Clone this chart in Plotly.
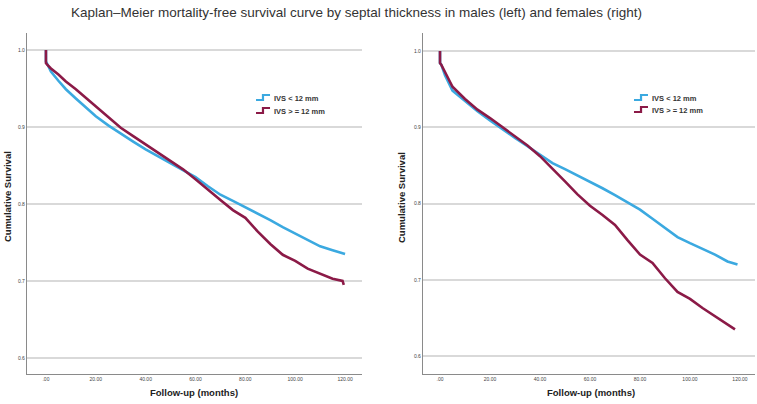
import plotly.graph_objects as go

# ---------------- data ----------------
months_m_blue = [0, 0, 0.5, 2, 5, 8, 12, 16, 20, 25, 30, 35, 40, 45, 50, 55, 60, 65, 70, 75, 80, 85, 90, 95, 100, 105, 110, 115, 120]
surv_m_blue = [1.0, 0.985, 0.982, 0.972, 0.96, 0.949, 0.937, 0.926, 0.914, 0.902, 0.891, 0.881, 0.871, 0.862, 0.853, 0.845, 0.835,
               0.823, 0.812, 0.804, 0.796, 0.788, 0.779, 0.770, 0.762, 0.754, 0.745, 0.740, 0.735]
months_m_red = [0, 0, 0.5, 2, 5, 8, 12, 16, 20, 25, 30, 35, 40, 45, 50, 55, 60, 65, 70, 75, 80, 85, 90, 95, 100, 105, 110, 115, 119, 119.5]
surv_m_red = [1.0, 0.983, 0.981, 0.976, 0.968, 0.959, 0.949, 0.938, 0.926, 0.913, 0.899, 0.888, 0.877, 0.866, 0.856, 0.845, 0.832,
              0.818, 0.805, 0.792, 0.782, 0.764, 0.748, 0.734, 0.726, 0.716, 0.709, 0.703, 0.700, 0.695]

months_f_blue = [0, 0, 0.5, 2, 5, 10, 15, 20, 25, 30, 35, 40, 45, 50, 55, 60, 65, 70, 75, 80, 85, 90, 95, 100, 105, 110, 115, 119]
surv_f_blue = [1.0, 0.984, 0.982, 0.968, 0.948, 0.934, 0.921, 0.909, 0.897, 0.886, 0.875, 0.864, 0.853, 0.845, 0.837, 0.829, 0.82,
               0.811, 0.802, 0.792, 0.78, 0.768, 0.756, 0.748, 0.741, 0.733, 0.724, 0.72]
months_f_red = [0, 0, 0.5, 2, 5, 10, 15, 20, 25, 30, 35, 40, 45, 50, 55, 60, 65, 70, 75, 80, 85, 90, 95, 100, 105, 110, 115, 118]
surv_f_red = [1.0, 0.984, 0.982, 0.972, 0.953, 0.937, 0.923, 0.912, 0.9, 0.888, 0.876, 0.862, 0.846, 0.829, 0.812, 0.797, 0.785,
              0.772, 0.752, 0.733, 0.722, 0.702, 0.684, 0.675, 0.663, 0.652, 0.641, 0.635]

series_names = ["IVS < 12 mm", "IVS > = 12 mm"]
x_ticks = [0, 20, 40, 60, 80, 100, 120]
x_tick_labels = [".00", "20.00", "40.00", "60.00", "80.00", "100.00", "120.00"]
y_ticks = [0.6, 0.7, 0.8, 0.9, 1.0]
y_tick_labels = ["0.6", "0.7", "0.8", "0.9", "1.0"]

title_text = "Kaplan\u2013Meier mortality-free survival curve by septal thickness in males (left) and females (right)"
y_title = "Cumulative Survival"
x_title = "Follow-up (months)"

BLUE = "#3BA9E0"
RED = "#8B1A47"

W, H = 757, 404

fig = go.Figure()

def add(x, y, color, name, xa, ya):
    fig.add_trace(go.Scatter(x=x, y=y, mode="lines", line=dict(color=color, width=2.6, shape="linear"),
                             name=name, xaxis=xa, yaxis=ya, showlegend=False))

add(months_m_blue, surv_m_blue, BLUE, series_names[0], "x", "y")
add(months_m_red, surv_m_red, RED, series_names[1], "x", "y")
add(months_f_blue, surv_f_blue, BLUE, series_names[0], "x2", "y2")
add(months_f_red, surv_f_red, RED, series_names[1], "x2", "y2")

def px_x(p):
    return p / W

def px_y(p):
    return 1 - p / H

axis_common = dict(showline=True, linecolor="#8a8a8a", linewidth=1.2, ticks="", zeroline=False,
                   tickfont=dict(size=5, color="#444", family="Liberation Sans"))

fig.update_layout(
    width=W, height=H, margin=dict(l=0, r=0, t=0, b=0),
    paper_bgcolor="white", plot_bgcolor="white",
    showlegend=False,
    xaxis=dict(domain=[px_x(27), px_x(362)], range=[-7.6, 126.8], tickvals=x_ticks, ticktext=x_tick_labels,
               showgrid=False, anchor="y", **axis_common),
    yaxis=dict(domain=[px_y(374), px_y(33)], range=[0.5792, 1.022], tickvals=y_ticks, ticktext=y_tick_labels,
               showgrid=True, gridcolor="#d9d9d9", gridwidth=1.5, anchor="x", **axis_common),
    xaxis2=dict(domain=[px_x(423), px_x(755)], range=[-6.8, 126.0], tickvals=x_ticks, ticktext=x_tick_labels,
                showgrid=False, anchor="y2", **axis_common),
    yaxis2=dict(domain=[px_y(374), px_y(33)], range=[0.5765, 1.0235], tickvals=y_ticks, ticktext=y_tick_labels,
                showgrid=True, gridcolor="#d9d9d9", gridwidth=1.5, anchor="x2", **axis_common),
)

# custom step-shaped legend icons + labels
shapes = []
ann = []
legend_spots = [(256, 98, 111), (634, 98, 110)]
for (lx, y1, y2) in legend_spots:
    for (yy, col, name) in [(y1, BLUE, series_names[0]), (y2, RED, series_names[1])]:
        path = "M {:.4f},{:.4f} L {:.4f},{:.4f} L {:.4f},{:.4f} L {:.4f},{:.4f}".format(
            px_x(lx), px_y(yy + 2), px_x(lx + 7), px_y(yy + 2), px_x(lx + 7), px_y(yy - 3), px_x(lx + 14), px_y(yy - 3))
        shapes.append(dict(type="path", path=path, xref="paper", yref="paper", line=dict(color=col, width=2.2)))
        ann.append(dict(text="<b>" + name + "</b>", x=px_x(lx + 16), y=px_y(yy), xref="paper", yref="paper",
                        showarrow=False, xanchor="left", yanchor="middle",
                        font=dict(size=7.5, family="Liberation Sans", color="#333")))

ann += [
    dict(text=title_text, x=px_x(356), y=px_y(12), xref="paper", yref="paper", showarrow=False,
         xanchor="center", yanchor="middle", font=dict(size=13.5, family="Liberation Sans", color="#333")),
    dict(text="<b>" + y_title + "</b>", x=px_x(7), y=px_y(197), xref="paper", yref="paper", showarrow=False,
         textangle=-90, xanchor="center", yanchor="middle", font=dict(size=9.5, family="Liberation Sans", color="#222")),
    dict(text="<b>" + y_title + "</b>", x=px_x(401), y=px_y(198), xref="paper", yref="paper", showarrow=False,
         textangle=-90, xanchor="center", yanchor="middle", font=dict(size=9.5, family="Liberation Sans", color="#222")),
    dict(text="<b>" + x_title + "</b>", x=px_x(194), y=px_y(392), xref="paper", yref="paper", showarrow=False,
         xanchor="center", yanchor="middle", font=dict(size=9.5, family="Liberation Sans", color="#222")),
    dict(text="<b>" + x_title + "</b>", x=px_x(591), y=px_y(392), xref="paper", yref="paper", showarrow=False,
         xanchor="center", yanchor="middle", font=dict(size=9.5, family="Liberation Sans", color="#222")),
]
fig.update_layout(annotations=ann, shapes=shapes)

fig.write_html("out.html", config={"displayModeBar": False},
               post_script="document.body.style.margin='0';document.body.style.padding='0';")
